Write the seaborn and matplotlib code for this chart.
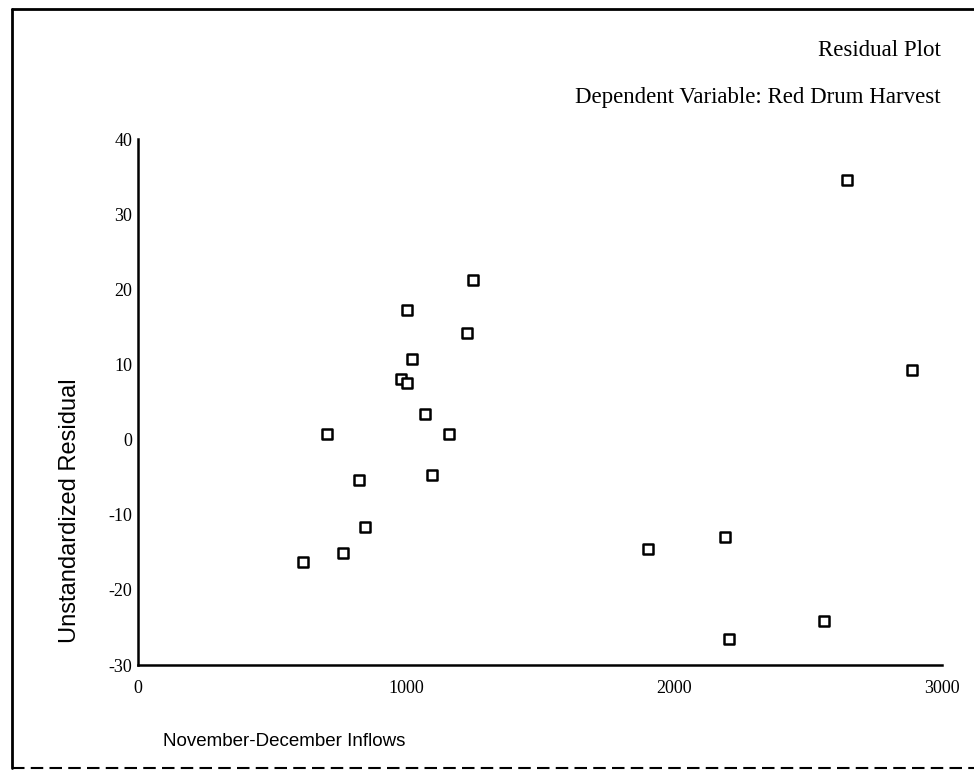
import matplotlib
matplotlib.use("Agg")
import matplotlib.pyplot as plt
import seaborn as sns
import pandas as pd
from matplotlib.lines import Line2D

inflows = [1249, 1003, 1226, 1022, 982, 1003, 1072, 706, 1160, 1096,
           826, 846, 766, 617, 2644, 2888, 2191, 1903, 2560, 2204]
residuals = [21.3, 17.3, 14.2, 10.7, 8.1, 7.5, 3.4, 0.8, 0.8, -4.75,
             -5.4, -11.7, -15.1, -16.3, 34.5, 9.2, -13.0, -14.6, -24.1, -26.5]
x_ticks = [0, 1000, 2000, 3000]
y_ticks = [-30, -20, -10, 0, 10, 20, 30, 40]

df = pd.DataFrame({"inflows": inflows, "residual": residuals})

sns.set_style("white")
plt.rcParams.update({"text.color": "black", "axes.labelcolor": "black",
                     "xtick.color": "black", "ytick.color": "black"})
fig = plt.figure(figsize=(9.74, 7.71), dpi=100)
ax = fig.add_axes([138/974, 1 - 665/771, 804/974, 526/771])

sns.scatterplot(data=df, x="inflows", y="residual", marker="s", s=42,
                facecolor="white", edgecolor="black", linewidth=1.8, ax=ax, zorder=3)

ax.set_xlim(0, 3000)
ax.set_ylim(-30, 40)
ax.set_xticks(x_ticks)
ax.set_yticks(y_ticks)
serif = "Liberation Serif"
sans = "Liberation Sans"
ax.set_xticklabels([str(v) for v in x_ticks], fontfamily=serif, fontsize=13)
ax.set_yticklabels([str(v) for v in y_ticks], fontfamily=serif, fontsize=13)
ax.tick_params(axis="both", direction="out", length=3, width=2.4, color="black")
ax.tick_params(axis="y", pad=1)
ax.tick_params(axis="x", pad=8)
for s in ["top", "right"]:
    ax.spines[s].set_visible(False)
for s in ["left", "bottom"]:
    ax.spines[s].set_linewidth(1.8)
    ax.spines[s].set_color("black")
ax.set_xlabel("")
ax.set_ylabel("")

fig.text(941/974, 1 - 50/771, "Residual Plot", ha="right", va="center",
         fontfamily=serif, fontsize=16.5)
fig.text(941/974, 1 - 97/771, "Dependent Variable: Red Drum Harvest", ha="right", va="center",
         fontfamily=serif, fontsize=16.5)
fig.text(70/974, 1 - 511/771, "Unstandardized Residual", rotation=90, ha="center", va="center",
         fontfamily=sans, fontsize=17)
fig.text(163/974, 1 - 742/771, "November-December Inflows", ha="left", va="center",
         fontfamily=sans, fontsize=13.5)

# outer frame
fig.add_artist(Line2D([12/974, 1.0], [1 - 9/771, 1 - 9/771], transform=fig.transFigure,
                      color="black", linewidth=2))
fig.add_artist(Line2D([12/974, 12/974], [1 - 9/771, 1 - 768/771], transform=fig.transFigure,
                      color="black", linewidth=2))
fig.add_artist(Line2D([12/974, 1.0], [1 - 768/771, 1 - 768/771], transform=fig.transFigure,
                      color="black", linewidth=1.5, linestyle=(0, (6, 3))))

fig.savefig("out.png", dpi=100)
